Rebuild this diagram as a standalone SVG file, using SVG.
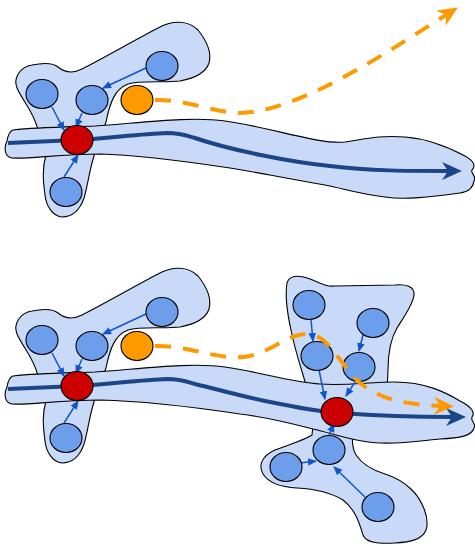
<svg xmlns="http://www.w3.org/2000/svg" width="475" height="546" viewBox="0 0 475 546">
<style>
.blob{fill:#c9daf8;stroke:#000;stroke-width:1.1}
.node{fill:#6d9eeb;stroke:#000;stroke-width:1.1}
.hub{fill:#cc0000;stroke:#000;stroke-width:1.1}
.tx{fill:#ff9900;stroke:#000;stroke-width:1.1}
.main{fill:none;stroke:#1c4587;stroke-width:4}
.edge{fill:none;stroke:#1155cc;stroke-width:1.5;marker-end:url(#ah)}
.dash{fill:none;stroke:#ff9900;stroke-width:4;stroke-dasharray:16 12;marker-end:url(#oa)}
</style>
<defs>
<marker id="ah" markerUnits="userSpaceOnUse" viewBox="0 -5 10 10" markerWidth="10" markerHeight="10" refX="8" refY="0" orient="auto">
<path d="M0,-3.8 L9,0 L0,3.8 Z" fill="#1155cc"/>
</marker>
<marker id="ba" markerUnits="userSpaceOnUse" viewBox="-1 -10 23 20" markerWidth="23" markerHeight="20" refX="6" refY="0" orient="auto">
<path d="M0,-9 L20,0 L0,9 L6,0 Z" fill="#1c4587"/>
</marker>
<marker id="oa" markerUnits="userSpaceOnUse" viewBox="-1 -10 23 20" markerWidth="23" markerHeight="20" refX="6" refY="0" orient="auto">
<path d="M0,-9 L20,0 L0,9 L6,0 Z" fill="#ff9900"/>
</marker>
<path id="leftblob" d="M38,130 C34,112 22,100 17,88 C13,78 20,67 32,65 C42,63 52,62 58,67 C64,72 72,74 82,69 C100,60 135,40 158,28 C172,20 188,20 198,30 C206,40 212,52 209,63 C206,72 196,78 180,81 C165,83 140,80 128,84 C115,89 110,102 106,122 L96,150 C90,165 88,185 84,198 C80,210 72,217 62,217 C52,216 46,205 45,195 C43,180 42,168 46,155 Z"/>
</defs>

<!-- top scene -->
<g id="top-blob"><use href="#leftblob" class="blob"/></g>
<g id="top-band">
<path class="blob" d="M13,130 C40,127 70,127 95,126 C140,123 190,116 225,121 C270,127 320,145 345,142 C365,139 380,135 405,137 C430,139 450,148 465,156 C474,161 476,166 472,170 C470,173 477,176 474,181 C473,188 468,192 460,193 C430,197 405,200 385,197 C360,194 345,189 325,185 C280,177 250,171 230,168 C190,162 140,155 100,154 C60,154 30,159 12,158 C4,157 4,147 7,141 C8,135 10,131 13,130 Z"/>
</g>

<!-- bottom scene shapes -->
<g id="bottom-blob-left"><use href="#leftblob" class="blob" transform="translate(0,246)"/></g>
<g id="bottom-blob-upper-right">
<path class="blob" d="M308,392 C302,370 296,355 291,330 C287,312 285,295 287,283 C289,276 297,274 310,279 C320,283 326,287 335,286 L395,285 C405,284 415,286 414,295 C413,305 403,318 397,328 C390,340 388,355 388,370 L387,392 Z"/>
</g>
<g id="bottom-blob-lower-right">
<path class="blob" d="M313,425 L312,435 C305,440 290,444 275,450 C262,456 258,465 263,474 C268,482 278,487 297,488 C315,489 330,492 343,500 C356,510 360,525 363,535 C366,542 375,544 395,543 C410,542 422,540 426,530 C430,518 422,500 412,490 C405,483 398,478 385,474 C372,470 362,464 356,455 C352,448 352,443 353,425 Z"/>
</g>
<g id="bottom-band">
<path class="blob" d="M13,376 C40,373 70,373 95,372 C140,369 190,362 225,367 C260,372 290,382 320,384 C345,386 370,382 395,382 C425,382 445,392 460,401 C470,406 476,412 472,417 C470,421 477,424 474,428 C472,436 460,438 440,439 C420,441 400,444 380,443 C355,442 335,434 313,429 C290,423 265,417 240,414 C200,408 140,401 100,400 C60,400 30,405 12,404 C4,403 4,393 7,387 C8,381 10,377 13,376 Z"/>
</g>

<g id="connectors">
<path class="main" marker-end="url(#ba)" d="M8,143 C30,142 55,141 77,140 C110,138 140,134 167,133 C180,133 185,135 195,138 C230,150 290,162 330,166 C370,171 410,171 448,171"/>
<path class="main" marker-end="url(#ba)" d="M8,389 C30,388 55,387 77,386 C110,384 140,380 167,379 C180,379 185,381 195,384 C220,390 245,397 270,402 C300,408 320,412 340,413 C380,416 420,417 452,417"/>
<path class="edge" d="M52,107 L64,130"/>
<path class="edge" d="M82,113 L76,127"/>
<path class="edge" d="M146,68 L103,88"/>
<path class="edge" d="M64,177 L78,155"/>
<path class="edge" d="M52,353 L64,376"/>
<path class="edge" d="M82,359 L76,373"/>
<path class="edge" d="M146,314 L103,334"/>
<path class="edge" d="M64,423 L78,401"/>
<path class="edge" d="M311,320 L313,341"/>
<path class="edge" d="M363,335 L359,351"/>
<path class="edge" d="M319,370 L325,399"/>
<path class="edge" d="M355,382 L346,396"/>
<path class="edge" d="M329,435 L334,424"/>
<path class="edge" d="M300,463 L316,461"/>
<path class="edge" d="M365,497 L334,467"/>
</g>

<g id="top-nodes">
<g id="t-a"><ellipse class="node" cx="42" cy="94" rx="16" ry="14.5"/></g>
<g id="t-b"><ellipse class="node" cx="92" cy="100" rx="16" ry="14.5"/></g>
<g id="t-c"><ellipse class="node" cx="162" cy="66" rx="16" ry="14.5"/></g>
<g id="t-d"><ellipse class="node" cx="66" cy="192" rx="16" ry="14.5"/></g>
<g id="t-hub"><ellipse class="hub" cx="77" cy="140" rx="16" ry="14.5"/></g>
<g id="t-orange"><ellipse class="tx" cx="137" cy="100" rx="16" ry="14.5"/></g>
</g>
<g id="bottom-nodes">
<g id="b-a"><ellipse class="node" cx="42" cy="340" rx="16" ry="14.5"/></g>
<g id="b-b"><ellipse class="node" cx="92" cy="346" rx="16" ry="14.5"/></g>
<g id="b-c"><ellipse class="node" cx="162" cy="312" rx="16" ry="14.5"/></g>
<g id="b-d"><ellipse class="node" cx="66" cy="438" rx="16" ry="14.5"/></g>
<g id="b-hub1"><ellipse class="hub" cx="77" cy="386" rx="16" ry="14.5"/></g>
<g id="b-orange"><ellipse class="tx" cx="137" cy="346" rx="16" ry="14.5"/></g>
<g id="b-e"><ellipse class="node" cx="309" cy="305" rx="16" ry="14.5"/></g>
<g id="b-f"><ellipse class="node" cx="373" cy="323" rx="16" ry="14.5"/></g>
<g id="b-g"><ellipse class="node" cx="317" cy="356" rx="16" ry="14.5"/></g>
<g id="b-h"><ellipse class="node" cx="359" cy="367" rx="16" ry="14.5"/></g>
<g id="b-hub2"><ellipse class="hub" cx="337" cy="412" rx="16" ry="14.5"/></g>
<g id="b-i"><ellipse class="node" cx="329" cy="450" rx="16" ry="14.5"/></g>
<g id="b-j"><ellipse class="node" cx="286" cy="467" rx="16" ry="14.5"/></g>
<g id="b-k"><ellipse class="node" cx="378" cy="507" rx="16" ry="14.5"/></g>
</g>

<g id="dashed-connectors">
<path class="dash" d="M155,100 C185,99 215,113 240,113 C300,112 390,50 446,15"/>
<path class="dash" d="M155,346 C190,345 220,362 250,356 C275,350 290,332 310,334 C330,337 340,365 360,383 C380,400 410,405 440,406"/>
</g>
</svg>
